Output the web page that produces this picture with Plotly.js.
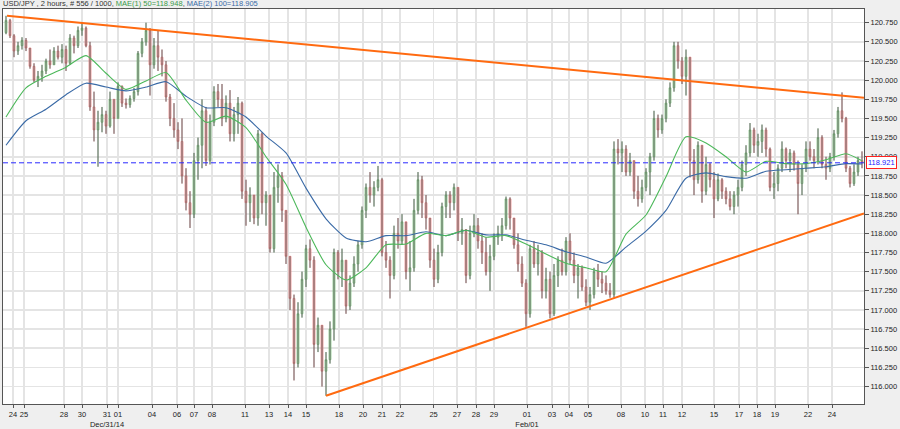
<!DOCTYPE html>
<html>
<head>
<meta charset="utf-8">
<script src="https://cdn.plot.ly/plotly-3.0.1.min.js"></script>
<style>html,body{margin:0;padding:0;background:#efefef;}#chart{width:900px;height:429px;}</style>
</head>
<body>
<div id="chart"></div>
<script>
// ---- data (2-hour USD/JPY candles) ----
const openP = [
120.62,120.78,120.58,120.38,120.45,120.52,120.42,120.18,120.00,120.05,
120.12,120.25,120.20,120.38,120.30,120.40,120.22,120.55,120.45,120.65,
120.68,120.45,119.65,119.35,119.45,119.55,119.40,119.75,119.50,119.92,
119.70,119.68,119.76,119.85,120.35,120.50,120.65,120.20,120.45,120.30,
120.20,119.78,119.50,119.35,119.20,118.75,118.40,118.25,118.95,119.15,
119.60,118.95,119.45,119.85,119.75,119.50,119.70,119.30,119.55,119.70,
118.55,118.40,118.50,118.20,119.30,118.40,118.50,117.80,118.60,118.75,
118.30,117.70,117.15,116.30,116.95,117.40,117.80,117.65,116.55,116.80,
116.20,116.35,116.75,117.75,117.50,117.65,117.05,117.35,117.60,117.85,
118.30,118.60,118.50,118.60,118.70,117.75,117.65,117.45,118.00,117.90,
118.15,117.50,117.55,118.30,118.70,118.40,118.20,117.65,117.40,117.75,
118.35,118.50,118.40,118.60,118.00,118.05,117.45,118.00,118.10,117.90,
117.75,117.50,117.70,117.95,118.00,118.10,118.45,118.20,117.85,117.60,
117.35,116.95,117.80,117.60,117.75,117.25,117.40,116.95,117.45,117.65,
117.50,117.90,117.65,117.45,117.55,117.30,117.10,117.20,117.50,117.40,
117.35,117.25,117.20,119.10,119.05,119.10,118.80,118.95,118.55,118.45,
118.60,118.80,119.00,119.50,119.35,119.50,119.70,119.90,120.45,120.25,
120.05,120.30,118.95,118.70,119.15,118.55,118.90,118.70,118.45,118.70,
118.55,118.45,118.35,118.50,118.60,118.90,119.05,119.35,119.15,119.20,
119.35,119.10,118.60,118.65,118.85,119.10,118.95,119.05,118.90,118.65,
118.85,119.10,119.00,118.95,119.25,118.90,118.85,119.00,119.30,119.60,
119.50,118.85,118.65,118.80,118.95];
const highP = [
120.84,120.80,120.60,120.50,120.56,120.55,120.42,120.22,120.12,120.20,
120.28,120.40,120.43,120.45,120.47,120.45,120.60,120.58,120.70,120.75,
120.70,120.50,119.85,119.60,119.65,119.60,119.85,119.75,119.97,119.93,
119.76,119.80,119.90,120.38,120.55,120.75,120.68,120.55,120.65,120.40,
120.25,119.82,119.70,119.45,119.50,118.85,118.55,119.05,119.25,119.75,
119.65,119.55,119.92,119.95,119.95,119.80,119.87,119.65,119.78,119.72,
118.70,118.60,118.50,119.35,119.32,118.55,118.50,118.80,118.90,118.80,
118.30,117.70,117.20,117.10,117.50,117.85,117.92,117.70,116.90,116.80,
116.45,116.85,117.80,117.78,117.80,117.65,117.45,117.70,117.90,118.35,
118.65,118.80,118.68,118.88,118.72,117.90,117.70,118.10,118.20,118.25,
118.15,117.90,118.45,118.80,118.75,118.50,118.20,117.80,117.85,118.40,
118.55,118.55,118.65,118.60,118.20,118.05,118.10,118.25,118.20,118.00,
117.95,117.85,118.00,118.10,118.20,118.48,118.47,118.20,118.00,117.70,
117.40,117.85,117.90,117.85,117.78,117.55,117.50,117.60,117.70,117.80,
117.95,118.00,117.75,117.60,117.58,117.40,117.30,117.55,117.60,117.50,
117.45,117.35,119.20,119.23,119.20,119.15,119.05,118.95,118.75,118.70,
118.85,119.05,119.60,119.55,119.55,119.75,119.97,120.50,120.50,120.30,
120.40,120.30,119.10,119.20,119.15,119.00,118.92,118.80,118.78,118.72,
118.60,118.55,118.55,118.70,118.95,119.15,119.44,119.38,119.30,119.42,
119.38,119.12,118.80,118.90,119.20,119.12,119.10,119.08,118.95,118.90,
119.20,119.20,119.10,119.37,119.28,119.00,119.05,119.35,119.65,119.84,
119.52,118.88,118.90,119.00,119.07];
const lowP = [
120.60,120.55,120.30,120.33,120.40,120.38,120.15,119.97,119.91,119.98,
120.08,120.15,120.20,120.27,120.22,120.12,120.20,120.35,120.42,120.58,
120.43,119.60,119.20,118.87,119.32,119.30,119.38,119.30,119.50,119.65,
119.63,119.64,119.72,119.80,120.30,120.45,119.80,120.15,120.12,120.05,
119.72,119.40,119.25,119.10,118.65,118.30,118.07,118.20,118.70,118.85,
118.88,118.90,119.40,119.65,119.40,119.45,119.20,119.20,119.30,118.45,
118.10,118.15,118.12,118.10,118.25,118.10,117.75,117.75,118.40,118.15,
117.60,117.00,116.08,116.25,116.90,117.30,117.55,116.25,116.45,116.00,
115.88,116.30,116.60,117.40,117.30,116.95,117.00,117.30,117.50,117.80,
118.20,118.40,118.35,118.55,117.70,117.55,117.15,117.40,117.80,117.85,
117.40,117.25,117.50,118.25,118.20,118.05,117.55,117.30,117.35,117.70,
118.20,118.20,118.30,117.90,117.85,117.35,117.40,117.95,117.80,117.60,
117.45,117.25,117.65,117.85,117.90,118.05,118.05,117.80,117.50,117.30,
116.78,116.90,117.55,117.45,117.15,117.15,116.89,116.92,117.30,117.45,
117.45,117.60,117.35,117.15,117.25,117.05,117.00,117.15,117.30,117.22,
117.20,117.16,117.16,118.90,118.80,118.75,118.75,118.45,118.35,118.40,
118.55,118.50,118.95,119.25,119.30,119.45,119.65,119.85,120.15,119.95,
119.80,118.73,118.50,118.65,118.40,118.50,118.60,118.20,118.42,118.45,
118.38,118.30,118.25,118.35,118.55,118.75,119.00,119.05,119.00,119.05,
119.00,118.55,118.45,118.55,118.80,118.85,118.80,118.82,118.25,118.50,
118.80,118.95,118.85,118.90,118.85,118.70,118.80,118.95,119.25,119.45,
118.80,118.60,118.62,118.75,118.85];
const closeP = [
120.78,120.58,120.38,120.45,120.52,120.42,120.18,120.00,120.05,120.12,
120.25,120.20,120.38,120.30,120.40,120.22,120.55,120.45,120.65,120.68,
120.45,119.65,119.35,119.45,119.55,119.40,119.75,119.50,119.92,119.70,
119.68,119.76,119.85,120.35,120.50,120.65,120.20,120.45,120.30,120.20,
119.78,119.50,119.35,119.20,118.75,118.40,118.25,118.95,119.15,119.60,
118.95,119.45,119.85,119.75,119.50,119.70,119.30,119.55,119.70,118.55,
118.40,118.50,118.20,119.30,118.40,118.50,117.80,118.60,118.75,118.30,
117.70,117.15,116.30,116.95,117.40,117.80,117.65,116.55,116.80,116.20,
116.35,116.75,117.75,117.50,117.65,117.05,117.35,117.60,117.85,118.30,
118.60,118.50,118.60,118.70,117.75,117.65,117.45,118.00,117.90,118.15,
117.50,117.55,118.30,118.70,118.40,118.20,117.65,117.40,117.75,118.35,
118.50,118.40,118.60,118.00,118.05,117.45,118.00,118.10,117.90,117.75,
117.50,117.70,117.95,118.00,118.10,118.45,118.20,117.85,117.60,117.35,
116.95,117.80,117.60,117.75,117.25,117.40,116.95,117.45,117.65,117.50,
117.90,117.65,117.45,117.55,117.30,117.10,117.20,117.50,117.40,117.35,
117.25,117.20,119.10,119.05,119.10,118.80,118.95,118.55,118.45,118.60,
118.80,119.00,119.50,119.35,119.50,119.70,119.90,120.45,120.25,120.05,
120.30,118.95,118.70,119.15,118.55,118.90,118.70,118.45,118.70,118.55,
118.45,118.35,118.50,118.60,118.90,119.05,119.35,119.15,119.20,119.35,
119.10,118.60,118.65,118.85,119.10,118.95,119.05,118.90,118.65,118.85,
119.10,119.00,118.95,119.25,118.90,118.85,119.00,119.30,119.60,119.50,
118.85,118.65,118.80,118.95,118.92];

// moving averages sampled every 5th bar (bar index, value)
const maIdx = [0,5,10,15,20,25,30,35,40,45,50,55,60,65,70,75,80,85,90,95,100,105,110,115,120,125,130,135,140,145,150,155,160,165,170,175,180,185,190,195,200,205,210,214];
const ma50 = [119.52,119.90,120.05,120.17,120.32,120.09,119.88,119.99,120.10,119.74,119.45,119.53,119.38,119.00,118.64,118.08,117.59,117.39,117.55,117.85,117.86,118.00,117.97,118.04,117.95,117.97,117.86,117.73,117.61,117.55,117.50,117.99,118.24,118.74,119.26,119.18,119.00,118.80,118.94,118.91,118.91,118.96,119.04,118.948];
const ma100 = [119.15,119.47,119.62,119.81,119.96,119.91,119.86,119.91,119.98,119.79,119.64,119.64,119.52,119.27,119.05,118.59,118.19,117.94,117.89,117.97,117.97,118.02,117.97,118.04,117.98,117.98,117.91,117.85,117.76,117.69,117.61,117.82,118.03,118.30,118.72,118.79,118.74,118.72,118.81,118.83,118.85,118.87,118.91,118.905];

// trend lines (bar index, price)
const upperTrendX = [0.25, 214.5];
const upperTrendY = [120.84, 119.77];
const lowerTrendX = [80, 214.5];
const lowerTrendY = [115.88, 118.26];

const lastPrice = 118.921;

// date tick labels at bar positions
const tickPos = [1.75,4.5,14.5,19,25.25,28,36.5,42.75,47,51.5,59.75,65.75,70.5,75,83.25,89.25,94,98.5,106.9,112.75,117.5,122,130.25,136.5,140.75,145.5,153.75,159.75,164.25,169,177,183.25,187.75,192.25,200.5,206.5];
const tickLabels = ["24","25","28","30","31<br>Dec/31/14","01","04","06","07","08","11","13","14","15","18","20","21","22","25","27","28","29","01<br>Feb/01","03","04","05","08","10","11","12","15","17","18","19","22","24"];

// ---- build ----
const n = closeP.length;
const idx = [];
for (let i = 0; i < n; i++) idx.push(i);

const wickX = [], wickY = [];
for (let i = 0; i < n; i++) {
  wickX.push(i, i, null);
  wickY.push(highP[i], lowP[i], null);
}

const FONT = "Liberation Sans, Arial, sans-serif";

const traces = [
  {
    type: "candlestick", x: idx, open: openP, high: highP, low: lowP, close: closeP,
    increasing: {line: {color: "#5fb35f", width: 0.6}, fillcolor: "#a9dca9"},
    decreasing: {line: {color: "#e46262", width: 0.6}, fillcolor: "#f1aaaa"},
    whiskerwidth: 0, hoverinfo: "skip", showlegend: false
  },
  {
    type: "scatter", mode: "lines", x: wickX, y: wickY,
    line: {color: "#6a6a6a", width: 1}, hoverinfo: "skip", showlegend: false, connectgaps: false
  },
  {
    type: "scatter", mode: "lines", x: maIdx, y: ma100,
    line: {color: "#3a6aa6", width: 1.1, shape: "spline", smoothing: 0.6}, showlegend: false
  },
  {
    type: "scatter", mode: "lines", x: maIdx, y: ma50,
    line: {color: "#4cb85a", width: 1.1, shape: "spline", smoothing: 0.6}, showlegend: false
  },
  {
    type: "scatter", mode: "lines", x: upperTrendX, y: upperTrendY,
    line: {color: "#ff6a10", width: 2}, showlegend: false
  },
  {
    type: "scatter", mode: "lines", x: lowerTrendX, y: lowerTrendY,
    line: {color: "#ff6a10", width: 2}, showlegend: false
  }
];

const layout = {
  width: 900, height: 429,
  margin: {l: 3, r: 36, t: 9, b: 25, pad: 0},
  paper_bgcolor: "#efefef",
  plot_bgcolor: "#ffffff",
  showlegend: false,
  font: {family: FONT, size: 7.5, color: "#222"},
  xaxis: {
    range: [-0.75, 214.5], rangeslider: {visible: false},
    tickmode: "array", tickvals: tickPos, ticktext: tickLabels, tickangle: 0,
    tickfont: {family: FONT, size: 7.5, color: "#222"},
    showgrid: true, gridcolor: "#e4e4e4", gridwidth: 1.5,
    showline: true, linecolor: "#555", linewidth: 1, mirror: true,
    ticks: "outside", ticklen: 3, tickcolor: "#555",
    zeroline: false, fixedrange: true
  },
  yaxis: {
    side: "right", range: [115.772, 120.929],
    tick0: 116, dtick: 0.25, tickformat: ".3f",
    tickfont: {family: FONT, size: 7.5, color: "#222"},
    showgrid: true, gridcolor: "#e4e4e4", gridwidth: 1.5,
    showline: true, linecolor: "#555", linewidth: 1, mirror: true,
    ticks: "outside", ticklen: 4, tickcolor: "#555",
    zeroline: false, fixedrange: true
  },
  shapes: [{
    type: "line", xref: "paper", x0: 0, x1: 1, yref: "y", y0: lastPrice, y1: lastPrice,
    line: {color: "#2a2aff", width: 1, dash: "5px,3px"}, layer: "above"
  }],
  annotations: [
    {
      xref: "paper", yref: "paper", x: 0, y: 1, xanchor: "left", yanchor: "bottom",
      xshift: -2, yshift: -1, showarrow: false,
      font: {family: FONT, size: 7.5, color: "#333"},
      text: "USD/JPY , 2 hours, # 556 / 1000, <span style='color:#3a9a4a'>MAE(1) 50=118.948</span>, <span style='color:#3a6aa6'>MAE(2) 100=118.905</span>"
    },
    {
      xref: "paper", yref: "y", x: 1, y: lastPrice, xanchor: "left", yanchor: "middle",
      xshift: 2, showarrow: false, text: String(lastPrice),
      font: {family: FONT, size: 7.5, color: "#1a1aff"},
      bgcolor: "#ffffff", bordercolor: "#ff2020", borderwidth: 1, borderpad: 1
    }
  ]
};

Plotly.newPlot("chart", traces, layout, {staticPlot: true, displayModeBar: false});
</script>
</body>
</html>
